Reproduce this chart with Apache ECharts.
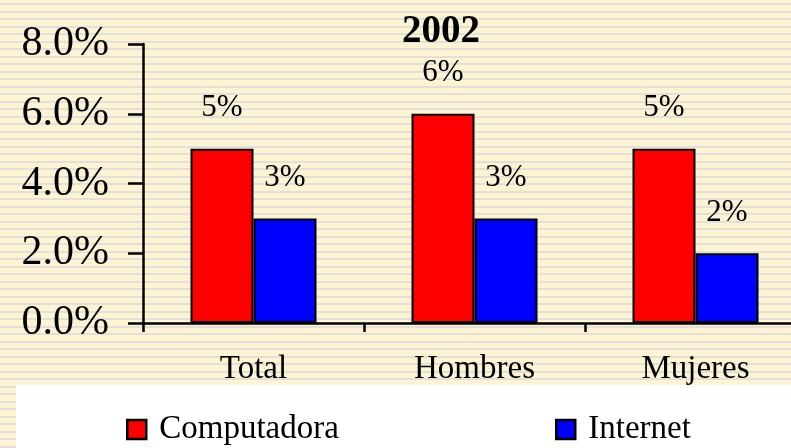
<!DOCTYPE html>
<html>
<head>
<meta charset="utf-8">
<script src="https://cdn.jsdelivr.net/npm/echarts@6/dist/echarts.min.js"></script>
<style>
html,body{margin:0;padding:0;overflow:hidden;width:791px;height:448px;}
#chart{width:830px;height:448px;
background: repeating-linear-gradient(to bottom, #FFF4D2 0px, #FFF4D2 3.4px, #E2E0DC 3.4px, #E2E0DC 5.4px, #FFF4D2 5.4px, #FFF4D2 7.5px);}
</style>
</head>
<body>
<div id="chart"></div>
<script>
const categories = ['Total', 'Hombres', 'Mujeres'];
const computadora = [5, 6, 5];
const internet = [3, 3, 2];
const yTicks = [0, 2, 4, 6, 8];
const seriesNames = ['Computadora', 'Internet'];
const titleText = '2002';

const font = '"Liberation Serif", "Times New Roman", serif';
const chart = echarts.init(document.getElementById('chart'));
const legendText = {fontFamily: font, fontSize: 33, color: '#000', lineHeight: 34, padding: [5, 0, 0, 8]};
chart.setOption({
  backgroundColor: 'transparent',
  animation: false,
  title: {
    text: titleText, left: 397, top: 7,
    textStyle: {fontFamily: font, fontSize: 39, fontWeight: 'bold', color: '#000'}
  },
  graphic: [{
    type: 'rect', z: -10, silent: true,
    shape: {x: 16, y: 385, width: 820, height: 70},
    style: {fill: '#FFFFFF'}
  }],
  legend: [{
    data: [seriesNames[0]], left: 126, top: 410, padding: 0, icon: 'rect',
    itemWidth: 19, itemHeight: 19, itemGap: 0,
    itemStyle: {borderColor: '#000', borderWidth: 2.5},
    textStyle: legendText
  }, {
    data: [seriesNames[1]], left: 555, top: 410, padding: 0, icon: 'rect',
    itemWidth: 19, itemHeight: 19, itemGap: 0,
    itemStyle: {borderColor: '#000', borderWidth: 2.5},
    textStyle: legendText
  }],
  grid: {left: 143, top: 44, width: 663, height: 279},
  xAxis: {
    type: 'category', data: categories, boundaryGap: true,
    axisLine: {lineStyle: {color: '#000', width: 2.5}},
    axisTick: {show: true, length: 9, inside: false, lineStyle: {color: '#000', width: 2.5}},
    axisLabel: {fontFamily: font, fontSize: 33, color: '#000', margin: 30}
  },
  yAxis: {
    type: 'value', min: yTicks[0], max: yTicks[yTicks.length - 1], interval: 2,
    splitLine: {show: false},
    axisLine: {show: true, lineStyle: {color: '#000', width: 2.5}},
    axisTick: {show: true, length: 15, lineStyle: {color: '#000', width: 2.5}},
    axisLabel: {fontFamily: font, fontSize: 42, color: '#000', margin: 34,
      formatter: v => v.toFixed(1) + '%'}
  },
  series: [{
    name: seriesNames[0], type: 'bar', data: computadora,
    barWidth: 63, barGap: '0%',
    itemStyle: {color: '#FF0000', borderColor: '#000', borderWidth: 2},
    label: {show: true, position: 'top', distance: 25, fontFamily: font, fontSize: 31, color: '#000',
      formatter: p => p.value + '%'}
  }, {
    name: seriesNames[1], type: 'bar', data: internet,
    barWidth: 63, barGap: '0%',
    itemStyle: {color: '#0000FF', borderColor: '#000', borderWidth: 2},
    label: {show: true, position: 'top', distance: 25, fontFamily: font, fontSize: 31, color: '#000',
      formatter: p => p.value + '%'}
  }]
});
</script>
</body>
</html>
